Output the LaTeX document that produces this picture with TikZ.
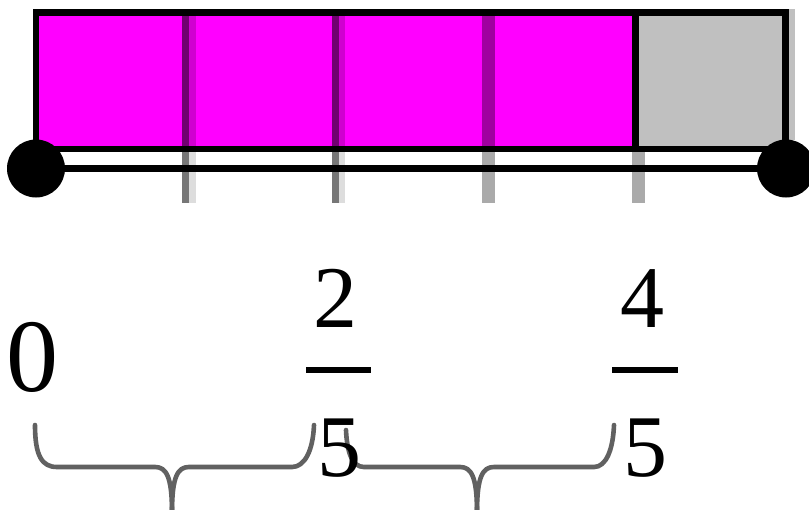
\documentclass[tikz,border=0pt]{standalone}
\usepackage{fontspec}
\setmainfont{Liberation Serif}
\definecolor{mag}{RGB}{255,0,255}
\definecolor{lgray}{RGB}{192,192,192}
\definecolor{pdark}{RGB}{112,0,112}
\definecolor{plight}{RGB}{208,0,208}
\definecolor{pmid}{RGB}{160,0,160}
\definecolor{tdark}{RGB}{119,119,119}
\definecolor{tlight}{RGB}{221,221,221}
\definecolor{tmid}{RGB}{170,170,170}
\tikzset{
  outline/.style={line width=6.3pt, line cap=rect},
  numline/.style={line width=6.3pt},
  fracbar/.style={line width=6pt},
  bracestyle/.style={draw=black!62, line width=4.6pt, line cap=round, line join=round},
  digit/.style={inner sep=0pt, font=\fontsize{88}{88}\selectfont},
  digitbig/.style={inner sep=0pt, font=\fontsize{104}{104}\selectfont}
}
\begin{document}
\begin{tikzpicture}[x=1pt,y=-1pt]
\useasboundingbox (0,0) rectangle (809,509);
% bar fills
\fill[mag] (36,12.5) rectangle (635.5,149);
\fill[lgray] (635.5,12.5) rectangle (785.5,149);
\fill[lgray] (785.5,9) rectangle (795,140);
% dividers inside magenta part
\fill[pdark] (182,16) rectangle (189,146);
\fill[plight] (189,16) rectangle (196,146);
\fill[pdark] (332,16) rectangle (339,146);
\fill[plight] (339,16) rectangle (345,146);
\fill[pmid] (482,16) rectangle (495,146);
% ticks below bar
\fill[tdark] (182,149) rectangle (189,203);
\fill[tlight] (189,149) rectangle (196,203);
\fill[tdark] (332,149) rectangle (339,203);
\fill[tlight] (339,149) rectangle (345,203);
\fill[tmid] (482,149) rectangle (495,203);
\fill[tmid] (632,149) rectangle (645,203);
% outline and last divider
\draw[outline] (36,12.5) rectangle (785.5,149);
\draw[outline] (635.5,12.5) -- (635.5,149);
% number line with end points
\coordinate (p0) at (36,168.5);
\coordinate (p1) at (786,168.5);
\draw[numline] (p0) -- (p1);
\fill (p0) circle (29pt);
\fill (p1) circle (29pt);
% braces
\draw[bracestyle] (35,425) .. controls (35,456) and (42,467) .. (57,467) -- (155,467)
  .. controls (166,467) and (172,476) .. (172,512);
\draw[bracestyle] (172,512) .. controls (172,476) and (178,467) .. (189,467) -- (292,467)
  .. controls (305,467) and (313,450) .. (314,425);
\draw[bracestyle] (346,430) .. controls (347,452) and (352,467) .. (364,467) -- (460,467)
  .. controls (471,467) and (477,476) .. (477,512);
\draw[bracestyle] (477,512) .. controls (477,476) and (483,467) .. (494,467) -- (594,467)
  .. controls (606,467) and (613,450) .. (614,425);
% labels
\node[digitbig] (zero) at (32.5,357) {0};
\node[digit] (n2) at (335.5,298) {2};
\coordinate (b1a) at (306,370);
\coordinate (b1b) at (371,370);
\draw[fracbar] (b1a) -- (b1b);
\node[digit] (d2) at (339,448) {5};
\node[digit] (n4) at (642,298.5) {4};
\coordinate (b2a) at (612,370);
\coordinate (b2b) at (678,370);
\draw[fracbar] (b2a) -- (b2b);
\node[digit] (d4) at (645,448) {5};
\end{tikzpicture}
\end{document}
